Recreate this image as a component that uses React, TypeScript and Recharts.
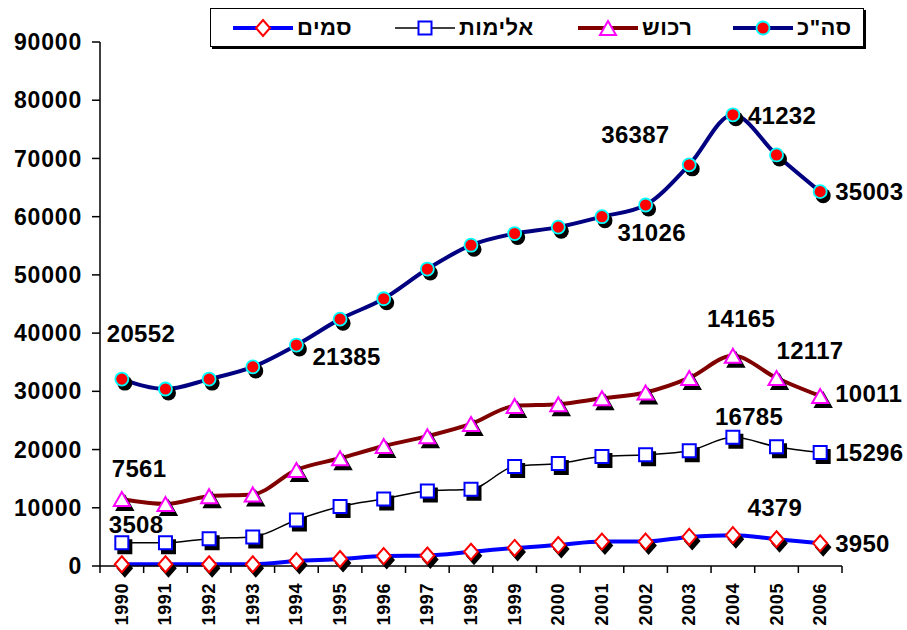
import React from "react";
import { LineChart, Line, XAxis, YAxis, Legend, LabelList } from "recharts";

const years = [1990, 1991, 1992, 1993, 1994, 1995, 1996, 1997, 1998, 1999, 2000, 2001, 2002, 2003, 2004, 2005, 2006];
const total = [32100, 30400, 32100, 34200, 37950, 42400, 45900, 51000, 55100, 57100, 58200, 60000, 62000, 68900, 77500, 70600, 64300];
const property = [11500, 10650, 12000, 12300, 16500, 18500, 20600, 22300, 24400, 27500, 27800, 28800, 29800, 32300, 36100, 32300, 29200];
const violence = [4000, 4000, 4700, 5000, 7900, 10200, 11500, 12900, 13200, 17100, 17600, 18800, 19100, 19800, 22100, 20500, 19500];
const drugs = [300, 300, 300, 300, 850, 1200, 1700, 1800, 2450, 3100, 3600, 4200, 4200, 5000, 5300, 4600, 3900];
const yTicks = [0, 10000, 20000, 30000, 40000, 50000, 60000, 70000, 80000, 90000];

// numbers written next to the lines
const totalNotes: Record<number, string> = { 1990: "20552", 1994: "21385", 2002: "31026", 2003: "36387", 2004: "41232", 2006: "35003" };
const propertyNotes: Record<number, string> = { 1990: "7561", 2004: "14165", 2005: "12117", 2006: "10011" };
const violenceNotes: Record<number, string> = { 1990: "3508", 2004: "16785", 2006: "15296" };
const drugNotes: Record<number, string> = { 2005: "4379", 2006: "3950" };

// left edge / vertical centre of each note relative to its point
const noteOffsets: Record<string, Record<number, [number, number]>> = {
  total: { 1990: [-15, -46], 1994: [16, 11], 2002: [-28, 27], 2003: [-88, -30], 2004: [15, 1], 2006: [15, 0] },
  property: { 1990: [-10, -31], 2004: [-26, -37], 2005: [0, -27], 2006: [15, -2] },
  violence: { 1990: [-13, -18], 2004: [-18, -21], 2006: [15, 0] },
  drugs: { 2005: [-29, -32], 2006: [15, 0] },
};

const data = years.map((year, i) => ({
  year,
  total: total[i],
  property: property[i],
  violence: violence[i],
  drugs: drugs[i],
}));

const FONT = "'Liberation Sans', Arial, sans-serif";

type Shape = "circle" | "triangle" | "square" | "diamond";

function markerPath(shape: Shape, x: number, y: number) {
  if (shape === "triangle") return `M${x},${y - 7} L${x + 8},${y + 7} L${x - 8},${y + 7} Z`;
  if (shape === "square") return `M${x - 6.5},${y - 6.5} h13 v13 h-13 Z`;
  return `M${x},${y - 8} L${x + 7},${y} L${x},${y + 8} L${x - 7},${y} Z`;
}

function Marker({ shape, x, y, stroke, fill, shadow = true }: { shape: Shape; x: number; y: number; stroke: string; fill: string; shadow?: boolean }) {
  if (shape === "circle") {
    return (
      <g>
        {shadow && <circle cx={x + 3} cy={y + 4} r={7.5} fill="#000" />}
        <circle cx={x} cy={y} r={6.5} fill={fill} stroke={stroke} strokeWidth={1.8} />
      </g>
    );
  }
  return (
    <g>
      {shadow && <path d={markerPath(shape, x + 3, y + 4)} fill="#000" stroke="#000" strokeWidth={2} />}
      <path d={markerPath(shape, x, y)} fill={fill} stroke={stroke} strokeWidth={2} />
    </g>
  );
}

const dotFor = (shape: Shape, stroke: string, fill: string) => (p: any) => {
  if (p.cx == null || p.cy == null) return <g key={p.key} />;
  return (
    <g key={p.key ?? `${shape}-${p.index}`}>
      <Marker shape={shape} x={p.cx} y={p.cy} stroke={stroke} fill={fill} />
    </g>
  );
};

const noteFor = (notes: Record<number, string>, series: string) => (p: any) => {
  const year = years[p.index];
  const text = notes[year];
  if (!text || p.x == null) return null;
  const [dx, dy] = noteOffsets[series][year];
  return (
    <text
      key={`${series}-${year}`}
      x={p.x + dx}
      y={p.y + dy}
      textAnchor="start"
      dominantBaseline="central"
      fontFamily={FONT}
      fontWeight="bold"
      fontSize={24}
      letterSpacing={0.3}
      fill="#000"
    >
      {text}
    </text>
  );
};

const YearTick = (props: any) => {
  const { x, y, payload, index } = props;
  const half = payload?.offset || 21.8;
  const last = index === years.length - 1;
  return (
    <g>
      <line x1={x - half} y1={y} x2={x - half} y2={y + 7} stroke="#000" strokeWidth={1.5} />
      {last && <line x1={x + half} y1={y} x2={x + half} y2={y + 7} stroke="#000" strokeWidth={1.5} />}
      <text
        transform={`translate(${x},${y + 17}) rotate(-90)`}
        textAnchor="end"
        dominantBaseline="central"
        fontFamily={FONT}
        fontWeight="bold"
        fontSize={18}
        letterSpacing={0.6}
        fill="#000"
      >
        {payload.value}
      </text>
    </g>
  );
};

const legendItems: { name: string; shape: Shape; line: string; lineWidth: number; stroke: string; fill: string; width: number }[] = [
  { name: "סמים", shape: "diamond", line: "#0000FF", lineWidth: 4, stroke: "#FF0000", fill: "#fff", width: 162 },
  { name: "אלימות", shape: "square", line: "#000", lineWidth: 1.5, stroke: "#0000FF", fill: "#fff", width: 183 },
  { name: "רכוש", shape: "triangle", line: "#800000", lineWidth: 4, stroke: "#FF00FF", fill: "#fff", width: 155 },
  { name: 'סה"כ', shape: "circle", line: "#000080", lineWidth: 4, stroke: "#00FFFF", fill: "#FF0000", width: 125 },
];

const LegendBox = () => (
  <div
    style={{
      boxSizing: "border-box",
      width: 654,
      height: 39,
      border: "1.5px solid #000",
      boxShadow: "2px 2px 0 #000",
      background: "#fff",
      display: "flex",
      alignItems: "center",
      paddingLeft: 22,
      fontFamily: FONT,
      fontWeight: "bold",
      fontSize: 22,
    }}
  >
    {legendItems.map((it) => (
      <div key={it.name} style={{ display: "flex", alignItems: "center", width: it.width }}>
        <svg width={60} height={22}>
          <line x1={0} y1={11} x2={60} y2={11} stroke={it.line} strokeWidth={it.lineWidth} />
          <Marker shape={it.shape} x={30} y={11} stroke={it.stroke} fill={it.fill} shadow={false} />
        </svg>
        <span dir="rtl" style={{ marginLeft: 4, letterSpacing: 0.5 }}>{it.name}</span>
      </div>
    ))}
  </div>
);

export default function App() {
  return (
    <div style={{ position: "absolute", left: 0, top: 0, width: 907, height: 630, background: "#fff" }}>
      <LineChart width={907} height={630} data={data} margin={{ top: 42, right: 65, bottom: 8, left: 0 }}>
        <XAxis
          dataKey="year"
          scale="band"
          interval={0}
          height={56}
          tickLine={false}
          tickSize={0}
          tickMargin={0}
          axisLine={{ stroke: "#000", strokeWidth: 1.5 }}
          tick={<YearTick />}
        />
        <YAxis
          type="number"
          domain={[0, 90000]}
          ticks={yTicks}
          interval={0}
          width={100}
          tickSize={8}
          tickMargin={10}
          axisLine={{ stroke: "#000", strokeWidth: 1.5 }}
          tickLine={{ stroke: "#000", strokeWidth: 1.5 }}
          tick={{ fill: "#000", fontFamily: FONT, fontWeight: "bold", fontSize: 23, letterSpacing: 0.8 }}
        />
        <Legend
          layout="horizontal"
          verticalAlign="middle"
          align="center"
          wrapperStyle={{ top: 8, left: 210, width: 654 }}
          content={<LegendBox />}
        />
        <Line type="monotone" dataKey="drugs" name="סמים" stroke="#0000FF" strokeWidth={4} isAnimationActive={false}
          dot={dotFor("diamond", "#FF0000", "#fff")} activeDot={false}>
          <LabelList dataKey="drugs" content={noteFor(drugNotes, "drugs")} />
        </Line>
        <Line type="monotone" dataKey="violence" name="אלימות" stroke="#000" strokeWidth={1.5} isAnimationActive={false}
          dot={dotFor("square", "#0000FF", "#fff")} activeDot={false}>
          <LabelList dataKey="violence" content={noteFor(violenceNotes, "violence")} />
        </Line>
        <Line type="monotone" dataKey="property" name="רכוש" stroke="#800000" strokeWidth={4} isAnimationActive={false}
          dot={dotFor("triangle", "#FF00FF", "#fff")} activeDot={false}>
          <LabelList dataKey="property" content={noteFor(propertyNotes, "property")} />
        </Line>
        <Line type="monotone" dataKey="total" name='סה"כ' stroke="#000080" strokeWidth={4} isAnimationActive={false}
          dot={dotFor("circle", "#00FFFF", "#FF0000")} activeDot={false}>
          <LabelList dataKey="total" content={noteFor(totalNotes, "total")} />
        </Line>
      </LineChart>
    </div>
  );
}
